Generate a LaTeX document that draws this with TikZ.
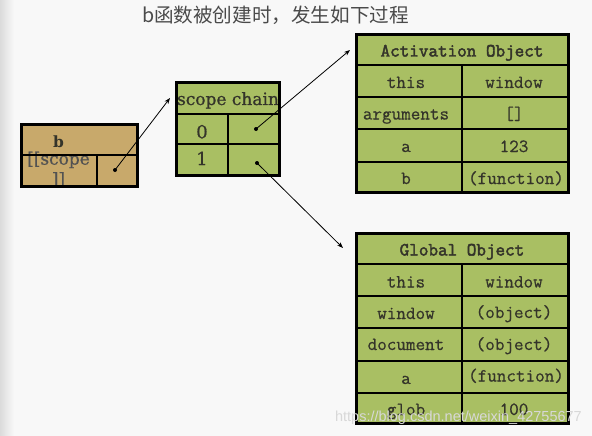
\documentclass[tikz,border=0pt]{standalone}
\usepackage{fontspec}
\usetikzlibrary{arrows.meta}
\newfontfamily\serf{DejaVu Serif}[FakeBold=0.8]
\newfontfamily\serfbf{DejaVu Serif Bold}
\newfontfamily\monof{Latin Modern Mono}[FakeBold=0.6]
\newfontfamily\monobf{Latin Modern Mono}[FakeBold=2.4]
\newfontfamily\cjkf{Noto Sans CJK SC}
\newfontfamily\wmf{Liberation Sans}
\definecolor{bg}{HTML}{F8F8F8}
\definecolor{grn}{HTML}{A9BF63}
\definecolor{tanc}{HTML}{C8A96B}
\definecolor{txt}{HTML}{34342A}
\definecolor{ttl}{HTML}{4A4A4A}
\definecolor{wm}{HTML}{D8D8D8}
\tikzset{
  outerbox/.style={draw=black, line width=3pt},
  innerline/.style={draw=black, line width=1.1pt},
  monotext/.style={font=\monof\fontsize{18.6}{20}\selectfont, text=txt, inner sep=0pt, anchor=base},
  hdrtext/.style={font=\monobf\fontsize{18.6}{20}\selectfont, text=txt, inner sep=0pt, anchor=base},
  serftext/.style={font=\serf\fontsize{17}{20.5}\selectfont, text=txt, inner sep=0pt, anchor=base},
  ptr/.style={line width=0.8pt, -{Stealth[length=6pt,width=4.5pt]}},
  dotmark/.style={circle, fill=black, inner sep=0pt, minimum size=4pt},
}
\begin{document}
\begin{tikzpicture}[x=1pt,y=-1pt]
\useasboundingbox (0,0) rectangle (592,436);
% background
\fill[bg] (0,0) rectangle (592,436);
\shade[left color=black!14, right color=bg] (0,0) rectangle (14,436);

% title
\node[font=\cjkf\fontsize{19.6}{23}\selectfont, text=ttl, inner sep=0pt, anchor=base] (title) at (275.5,23) {b函数被创建时，发生如下过程};

% ---------- b box ----------
\fill[tanc] (21.5,124.5) rectangle (137.5,186.5);
\node[serftext, font=\serfbf\fontsize{15.5}{18}\selectfont] (bname) at (58.5,147.5) {b};
\node[serftext, text=black!68, align=center, anchor=north] (bscope) at (58.5,151.5) {[[scope\\]]};
\draw[innerline] (21.5,155) -- (137.5,155);
\draw[innerline] (97,155) -- (97,186.5);
\draw[outerbox] (21.5,124.5) rectangle (137.5,186.5);

% ---------- scope chain ----------
\fill[grn] (176.5,82.5) rectangle (279.5,175.5);
\begin{scope}
  \clip (176.5,82.5) rectangle (279.5,114);
  \node[serftext] (schead) at (228,105) {scope chain};
\end{scope}
\node[serftext, font=\serf\fontsize{18}{20}\selectfont] (sc0) at (202,138.3) {0};
\node[serftext, font=\serf\fontsize{18}{20}\selectfont] (sc1) at (202,165) {1};
\draw[innerline] (176.5,114) -- (279.5,114);
\draw[innerline] (176.5,144) -- (279.5,144);
\draw[innerline] (228,114) -- (228,175.5);
\draw[outerbox] (176.5,82.5) rectangle (279.5,175.5);

% ---------- Activation Object ----------
\fill[grn] (356.5,34.5) rectangle (568.5,192.5);
\node[hdrtext] (aohead) at (462,56.5) {Activation Object};
\node[monotext] (ao1k) at (406,88) {this};
\node[monotext] (ao1v) at (514,88) {window};
\node[monotext] (ao2k) at (406,119.5) {arguments};
\node[monotext] (ao2v) at (514,119.5) {[]};
\node[monotext] (ao3k) at (406,152) {a};
\node[monotext] (ao3v) at (514,152) {123};
\node[monotext] (ao4k) at (406,184) {b};
\node[monotext] (ao4v) at (516,184) {(function)};
\foreach \yy in {65,97,129,162} \draw[innerline] (356.5,\yy) -- (568.5,\yy);
\draw[innerline] (462,65) -- (462,192.5);
\draw[outerbox] (356.5,34.5) rectangle (568.5,192.5);

% ---------- Global Object ----------
\fill[grn] (356.5,233.5) rectangle (568.5,423.5);
\node[hdrtext] (gohead) at (462,255.5) {Global Object};
\node[monotext] (go1k) at (406,287.5) {this};
\node[monotext] (go1v) at (514,287.5) {window};
\node[monotext] (go2k) at (406,319) {window};
\node[monotext] (go2v) at (514,318) {(object)};
\node[monotext] (go3k) at (406,350) {document};
\node[monotext] (go3v) at (514,350) {(object)};
\node[monotext] (go4k) at (406,384) {a};
\node[monotext] (go4v) at (516,381.5) {(function)};
\node[monotext] (go5k) at (406,415) {glob};
\node[monotext] (go5v) at (514,415) {100};
\foreach \yy in {264,296,328,361,393} \draw[innerline] (356.5,\yy) -- (568.5,\yy);
\draw[innerline] (462,264) -- (462,423.5);
\draw[outerbox] (356.5,233.5) rectangle (568.5,423.5);

% ---------- pointers ----------
\node[dotmark] (dotb) at (115,170) {};
\node[dotmark] (dot0) at (256,129) {};
\node[dotmark] (dot1) at (257,163) {};
\coordinate (tipb) at (170,98);
\coordinate (tip0) at (350,50);
\coordinate (tip1) at (343,248);
\draw[ptr] (dotb.center) -- (tipb);
\draw[ptr] (dot0.center) -- (tip0);
\draw[ptr] (dot1.center) -- (tip1);

% watermark
\node[font=\wmf\fontsize{14.5}{16}\selectfont, text=wm, inner sep=0pt, anchor=base east] (wmark) at (582,421) {https://blog.csdn.net/weixin\_42755677};
\end{tikzpicture}
\end{document}
